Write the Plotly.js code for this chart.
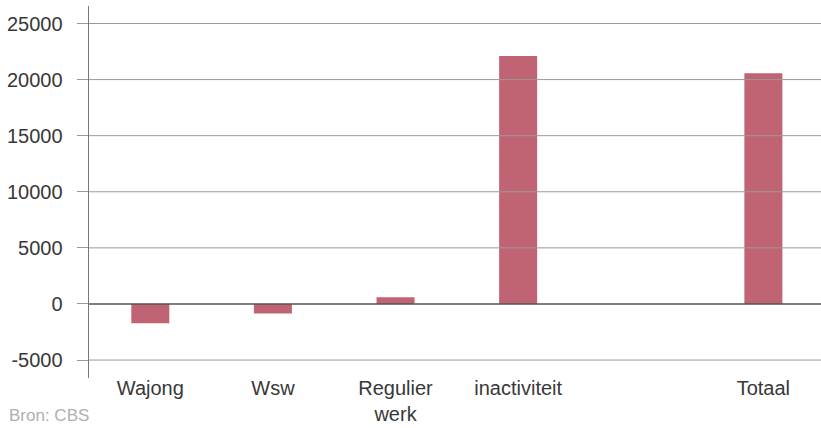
<!DOCTYPE html>
<html>
<head>
<meta charset="utf-8">
<script src="https://cdn.plot.ly/plotly-3.0.1.min.js"></script>
<style>
  html, body { margin: 0; padding: 0; background: #ffffff; }
  #chart { width: 821px; height: 428px; }
</style>
</head>
<body>
<div id="chart"></div>
<script>
// Verandering in aantal personen per uitkomst
const categories = ["Wajong", "Wsw", "Regulier<br>werk", "inactiviteit", " ", "Totaal"];
const values = [-1730, -840, 600, 22100, null, 20560];
const yTicks = [-5000, 0, 5000, 10000, 15000, 20000, 25000];
const yTickLabels = ["-5000", "0", "5000", "10000", "15000", "20000", "25000"];
const sourceText = "Bron: CBS";

const barColor = "#c06473";
const textColor = "#383838";
const gridColor = "#9a9a9a";

// Horizontal grid lines drawn on top of the bars, one per tick value
const gridShapes = yTicks.map(v => ({
  type: "line", xref: "paper", yref: "y", layer: "above",
  x0: 0, x1: 1, y0: v, y1: v,
  line: { color: v === 0 ? "#555555" : gridColor, width: v === 0 ? 1.4 : 1 }
}));

const trace = {
  type: "bar",
  x: categories,
  y: values,
  width: 0.31,
  marker: { color: barColor, line: { width: 0 } },
  hoverinfo: "x+y"
};

const layout = {
  width: 821,
  height: 428,
  margin: { l: 89, r: 0, t: 6, b: 50 },
  paper_bgcolor: "#ffffff",
  plot_bgcolor: "#ffffff",
  showlegend: false,
  font: { family: "Liberation Sans, Arial, sans-serif", size: 20, color: textColor },
  xaxis: {
    type: "category",
    categoryorder: "array",
    categoryarray: categories,
    range: [-0.5, 5.47],
    showgrid: false,
    zeroline: false,
    showline: false,
    ticks: "",
    ticklabelstandoff: -4,
    tickfont: { size: 20, color: textColor }
  },
  yaxis: {
    range: [-6600, 26560],
    tickvals: yTicks,
    ticktext: yTickLabels,
    showgrid: false,
    zeroline: false,
    showline: true,
    linecolor: "#777777",
    linewidth: 1.4,
    ticks: "outside",
    ticklen: 11,
    tickwidth: 1,
    tickcolor: gridColor,
    ticklabelstandoff: 10,
    tickfont: { size: 20, color: textColor }
  },
  shapes: gridShapes,
  annotations: [{
    text: sourceText,
    xref: "paper", yref: "paper",
    x: -89 / 732, y: -50 / 372,
    xshift: 7, yshift: 1,
    xanchor: "left", yanchor: "bottom",
    showarrow: false,
    font: { size: 17, color: "#b0b0b0" }
  }]
};

Plotly.newPlot("chart", [trace], layout, { staticPlot: true, displayModeBar: false });
</script>
</body>
</html>
